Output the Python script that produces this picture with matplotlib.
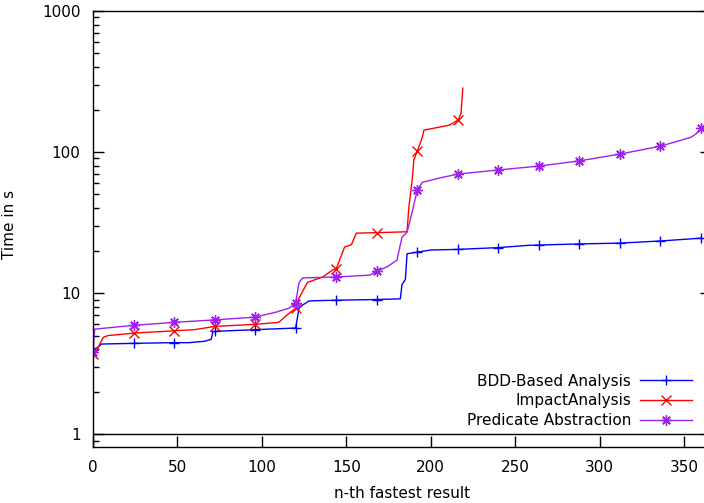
import matplotlib
matplotlib.use("Agg")
import matplotlib.pyplot as plt

# Runtime (s) of the n-th fastest verification result, per analysis
BDD_N = [0, 3, 5, 24, 48, 57, 66, 70, 71, 72, 96, 120, 122, 124, 128, 144, 168,
         182, 183, 185, 186, 192, 200, 216, 240, 258, 264, 288, 312, 336, 360]
BDD_T = [3.94, 4.14, 4.35, 4.4, 4.45, 4.45, 4.55, 4.7, 5.3, 5.35, 5.5, 5.65, 7.8,
         8.2, 8.8, 8.9, 9.0, 9.1, 11.5, 12.5, 19.0, 19.5, 20.2, 20.4, 21.0, 21.8,
         21.9, 22.3, 22.6, 23.4, 24.5]

IMPACT_N = [0, 3, 6, 9, 17, 24, 48, 60, 70, 72, 96, 110, 115, 120, 122, 127, 136,
            142, 144, 146, 149, 153, 156, 168, 186, 187, 189, 190, 192, 195, 196,
            211, 216, 217, 218, 219]
IMPACT_T = [3.7, 4.1, 4.85, 5.0, 5.1, 5.2, 5.4, 5.5, 5.75, 5.8, 6.0, 6.2, 7.0, 7.8,
            9.2, 11.9, 13.0, 14.6, 14.8, 17.1, 21.2, 22.0, 26.6, 26.8, 27.2, 40.0,
            63.0, 88.0, 101.0, 127.0, 143.0, 155.0, 168.0, 176.0, 190.0, 284.0]

PRED_N = [0, 1, 24, 48, 72, 96, 108, 116, 120, 122, 124, 144, 164, 168, 174, 180,
          183, 186, 189, 192, 195, 205, 216, 240, 264, 288, 312, 336, 354, 357, 360]
PRED_T = [3.8, 5.55, 5.9, 6.2, 6.45, 6.75, 7.3, 7.8, 8.5, 11.8, 12.8, 13.0, 13.4,
          14.3, 15.3, 17.1, 24.9, 27.0, 37.5, 53.5, 61.0, 65.3, 69.8, 74.6, 79.5,
          86.5, 96.7, 110.0, 127.0, 134.0, 147.0]

LABELS = ["BDD-Based Analysis", "ImpactAnalysis", "Predicate Abstraction"]
COLORS = ["#0000ff", "#ff0000", "#a020f0"]
MARKERS = ["+", "x", (8, 2, 0)]
MARKER_STEP = 24

plt.rcParams["font.family"] = "DejaVu Sans"
plt.rcParams["font.size"] = 11

fig = plt.figure(figsize=(7.04, 5.03), dpi=100)
ax = fig.add_axes([93 / 704, 1 - 447 / 503, (711 - 93) / 704, (447 - 11) / 503])

series = [(BDD_N, BDD_T), (IMPACT_N, IMPACT_T), (PRED_N, PRED_T)]
for (ns, ts), label, color, marker in zip(series, LABELS, COLORS, MARKERS):
    marks = [i for i, n in enumerate(ns) if n % MARKER_STEP == 0]
    ax.plot(ns, ts, color=color, lw=1.0, marker=marker, markersize=7.5,
            markeredgewidth=1.0, markevery=marks, label=label)

ax.set_yscale("log")
ax.set_xlim(0, 366)
ax.set_ylim(0.81, 1000)
ax.axhline(1, color="black", lw=1.0)

ax.set_xticks(range(0, 351, 50))
ax.set_yticks([1, 10, 100, 1000])
ax.set_yticklabels(["1", "10", "100", "1000"])
ax.tick_params(axis="both", which="both", direction="in", top=False, right=True)
ax.tick_params(axis="both", which="major", length=8, width=1.0)
ax.tick_params(axis="y", which="minor", length=4, width=1.0)
ax.tick_params(axis="x", which="major", pad=9)
ax.tick_params(axis="y", which="major", pad=9)
for sp in ax.spines.values():
    sp.set_linewidth(1.0)

ax.set_xlabel("n-th fastest result", labelpad=8)
ax.set_ylabel("Time in s")
ax.yaxis.set_label_coords(-0.123, 0.51)

ax.legend(loc="lower right", bbox_to_anchor=(692 / 704, 1 - 428 / 503),
          bbox_transform=fig.transFigure, frameon=False, markerfirst=False,
          handlelength=3.4, labelspacing=0.3, borderpad=0, borderaxespad=0,
          handletextpad=0.6)

fig.savefig("out.png", dpi=100)
